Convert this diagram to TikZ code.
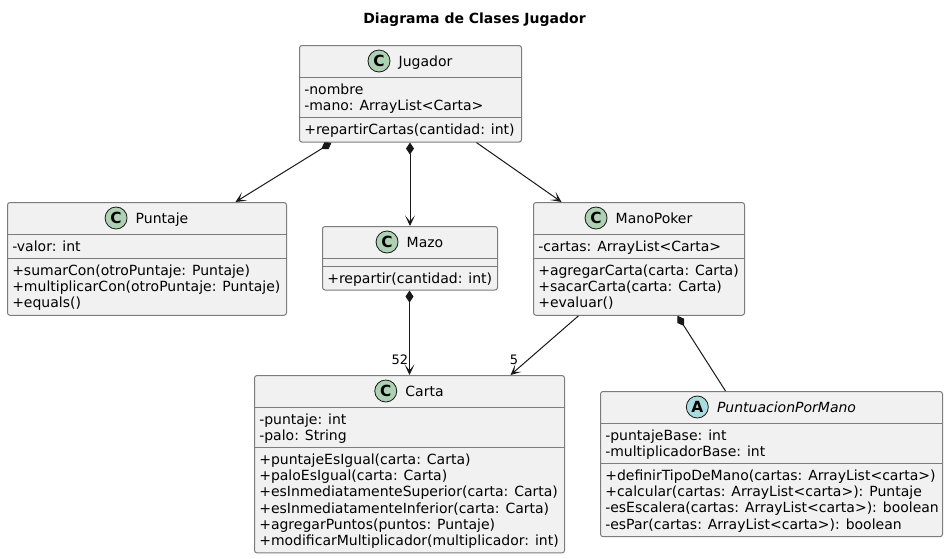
\documentclass[tikz,border=0pt]{standalone}
\usepackage{fontspec}
\setmainfont{DejaVu Sans}
\usetikzlibrary{positioning}
\usetikzlibrary{arrows.meta}
\definecolor{umlline}{HTML}{181818}
\definecolor{umlborder}{HTML}{7C7C7C}
\definecolor{umlfill}{HTML}{F1F1F1}
\definecolor{spotgreen}{HTML}{ADD1B2}
\definecolor{spotblue}{HTML}{A9DCDF}
\newcommand\umlfont{\fontsize{10.5}{12.15}\selectfont}
\tikzset{>={Stealth[length=8pt,width=7.5pt,inset=4.5pt]}}
\tikzstyle{classbox} = [draw=umlborder, fill=umlfill, line width=0.75pt, rounded corners=1.9pt, anchor=north west, inner sep=0pt]
\tikzstyle{divider} = [draw=umlborder, line width=0.75pt]
\tikzstyle{member} = [font=\umlfont, inner sep=0pt, anchor=base west, xshift=3.75pt]
\tikzstyle{classname} = [font=\umlfont, inner sep=0pt, text height=7.5pt, text depth=0pt, anchor=base]
\tikzstyle{spot} = [circle, draw=umlline, line width=0.6pt, minimum size=16.5pt, inner sep=0pt, font=\fontsize{11.5}{12}\selectfont\bfseries]
\tikzstyle{spotC} = [spot, fill=spotgreen]
\tikzstyle{spotA} = [spot, fill=spotblue]
\tikzstyle{link} = [draw=umlline, line width=0.75pt]
\tikzstyle{associate} = [link, ->]
\tikzstyle{composition} = [link, {Diamond[length=9pt,width=6pt]}->]
\tikzstyle{compline} = [link, {Diamond[length=9pt,width=6pt]}-]
\tikzstyle{mult} = [font=\fontsize{9.75}{11}\selectfont, inner sep=0pt]
% box, name and spot of one class: #1 letter, #2 id, #3 name, #4 left, #5 top, #6 right, #7 bottom
\newcommand\umlclass[7]{%
    \node[classbox, minimum width={(#6-#4)*0.75pt}, minimum height={(#7-#5)*0.75pt}] (#2) at (#4,#5) {};
    \node[classname] (#2-name) at ([shift={(15,21)}]#2.north) {#3};
    \node[spot#1, left=6pt of #2-name] (#2-spot) {#1};
    \draw[divider] (#2.west |- 0,#5+32) -- (#2.east |- 0,#5+32);
}
% one compartment: #1 id, #2 part, #3 divider, #4 lines
\newcommand\members[4]{%
    \draw[divider] (#1.west |- 0,#3) -- (#1.east |- 0,#3);
    \foreach \txt [count=\i] in {#4} {
        \pgfmathsetmacro\yy{#3+17+16.2*(\i-1)}
        \node[member] (#1-#2-\i) at (#1.west |- 0,\yy) {\txt};
    }
}

\begin{document}
\begin{tikzpicture}[x=0.75pt, y=-0.75pt]
    \useasboundingbox (0,0) rectangle (949,558);
    \node[font=\umlfont\bfseries, anchor=base] (title) at (474.5,23) {Diagrama de Clases Jugador};

    \umlclass{C}{jugador}{Jugador}{299}{45}{521}{141.6}
    \members{jugador}{attr}{77}{-nombre, -mano: ArrayList<Carta>}
    \members{jugador}{op}{117.4}{+repartirCartas(cantidad: int)}

    \umlclass{C}{puntaje}{Puntaje}{7}{202}{286}{314.8}
    \members{puntaje}{attr}{234}{-valor: int}
    \members{puntaje}{op}{258.2}{+sumarCon(otroPuntaje: Puntaje), +multiplicarCon(otroPuntaje: Puntaje), +equals()}

    \umlclass{C}{mazo}{Mazo}{322}{226}{497}{289.5}
    \draw[divider] (mazo.west |- 0,266) -- (mazo.east |- 0,266);
    \members{mazo}{op}{266}{+repartir(cantidad: int)}

    \umlclass{C}{manopoker}{ManoPoker}{533}{202}{744}{314.8}
    \members{manopoker}{attr}{234}{-cartas: ArrayList<Carta>}
    \members{manopoker}{op}{258.2}{+agregarCarta(carta: Carta), +sacarCarta(carta: Carta), +evaluar()}

    \umlclass{C}{carta}{Carta}{254}{375}{564}{552.4}
    \members{carta}{attr}{407}{-puntaje: int, -palo: String}
    \members{carta}{op}{447.4}{+puntajeEsIgual(carta: Carta), +paloEsIgual(carta: Carta), +esInmediatamenteSuperior(carta: Carta), +esInmediatamenteInferior(carta: Carta), +agregarPuntos(puntos: Puntaje), +modificarMultiplicador(multiplicador: int)}

    \umlclass{A}{puntuacion}{\textit{PuntuacionPorMano}}{600}{391}{942}{536.2}
    \members{puntuacion}{attr}{423}{-puntajeBase: int, -multiplicadorBase: int}
    \members{puntuacion}{op}{463.4}{+definirTipoDeMano(cartas: ArrayList<carta>), +calcular(cartas: ArrayList<carta>): Puntaje, -esEscalera(cartas: ArrayList<carta>): boolean, -esPar(cartas: ArrayList<carta>): boolean}

    % relations
    \draw[composition] ([shift={(-79,0)}]jugador.south) -- ([shift={(88.5,0)}]puntaje.north);
    \draw[composition] (mazo.north |- jugador.south) -- (mazo.north);
    \draw[associate] ([shift={(66,0)}]jugador.south) -- ([shift={(-77.5,0)}]manopoker.north);
    \draw[composition] (carta.north |- mazo.south) -- (carta.north);
    \draw[associate] ([shift={(-60.5,0)}]manopoker.south) -- ([shift={(101,0)}]carta.north);
    \draw[compline] ([shift={(38.5,0)}]manopoker.south) -- ([shift={(-46,0)}]puntuacion.north);
    \node[mult, anchor=base east] (mult52) at ([shift={(-1,-11)}]carta.north) {52};
    \node[mult, anchor=base west] (mult5) at ([shift={(100,-11)}]carta.north) {5};
\end{tikzpicture}
\end{document}
